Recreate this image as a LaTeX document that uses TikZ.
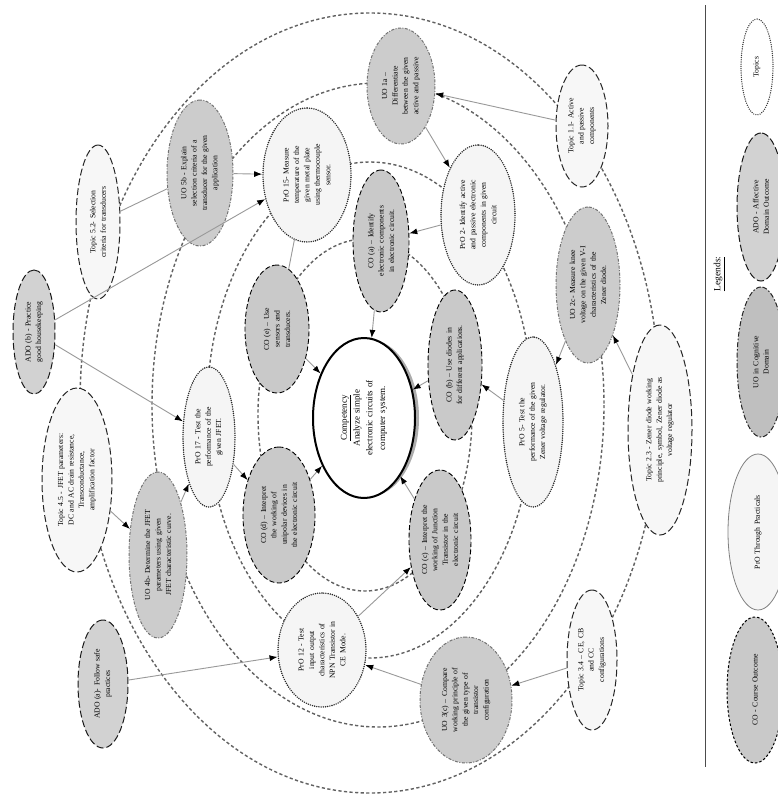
\documentclass[tikz,border=0pt]{standalone}
\usepackage{fontspec}
\setmainfont{Liberation Serif}
\usetikzlibrary{shapes.geometric,arrows.meta}
\tikzset{
  sz/.style 2 args={minimum width=#2*2pt, minimum height=#1*2pt},
  base/.style={ellipse, inner sep=0pt, align=center, rotate=90, font=\fontsize{7.7}{10.4}\selectfont},
  conode/.style={base, draw=black, fill=gray!42, line width=0.9pt, dash pattern=on 5pt off 2.5pt},
  pronode/.style={base, draw=black!85, fill=gray!8, line width=1.6pt, dash pattern=on 0pt off 2.2pt, line cap=round},
  uonode/.style={base, draw=black!55, fill=gray!40, line width=1pt, dash pattern=on 3pt off 1.5pt on 1pt off 1.5pt},
  topicnode/.style={base, draw=black!85, fill=gray!6, line width=1pt, dash pattern=on 7pt off 3pt},
  adonode/.style={base, draw=black!90, fill=gray!35, line width=1pt, dash pattern=on 7pt off 3pt},
  compnode/.style={ellipse, inner sep=0pt, align=center, rotate=90, draw=black, fill=white, line width=2pt, font=\fontsize{9}{12.8}\selectfont},
  ring/.style={draw=black!62, line width=1.4pt, dash pattern=on 3.2pt off 2.4pt},
  link/.style={draw=black!40, line width=0.9pt, -{Latex[black,length=8pt,width=6pt]}},
  plainlink/.style={draw=black!40, line width=0.9pt},
  legline/.style={draw=black!70, line width=1pt},
}
\begin{document}
\begin{tikzpicture}[x=1pt,y=-1pt]
\useasboundingbox (0,0) rectangle (778,798);
\fill[white] (0,0) rectangle (778,798);
% rings
\draw[ring] (370,403) ellipse [x radius=290, y radius=390];
\draw[ring] (378,405) ellipse [x radius=226, y radius=322];
\draw[ring] (370,410) ellipse [x radius=163, y radius=248];
\draw[ring] (365,415) ellipse [x radius=107, y radius=176];
% competency shadow
\fill[gray!65] (368,418) ellipse [x radius=51, y radius=79];
\node[compnode, sz={51}{80}, text width=104pt] (comp) at (364,418)
  {\underline{Competency}\\Analyze simple\\electronic circuits of\\computer system.};
% CO nodes
\node[conode, sz={28}{71}, text width=95pt] (coa) at (381,241) {CO (a) – Identify\\electronic components\\in electronic circuit.};
\node[conode, sz={27}{75}, text width=104pt] (cob) at (455,365) {CO (b) – Use diodes in\\for different applications.};
\node[conode, sz={31}{70}, text width=95pt] (coc) at (440,540) {CO (c) – Interpret the\\working of Junction\\Transistor in the\\electronic circuit};
\node[conode, sz={36}{68}, text width=94pt] (cod) at (279,515) {CO (d) – Interpret\\the working of\\unipolar devices in\\the electronic circuit};
\node[conode, sz={32}{64}, text width=85pt] (coe) at (277,329) {CO (e) – Use\\sensors and\\transducers.};
% PrO nodes
\node[pronode, sz={37}{70}, text width=97pt] (pro2) at (478,215) {PrO 2- Identify active\\and passive electronic\\components in given\\circuit};
\node[pronode, sz={30}{85}, text width=115pt] (pro5) at (533,422) {PrO 5- Test the\\performance of the given\\Zener voltage regulator.};
\node[pronode, sz={44}{57}, text width=80pt] (pro12) at (322,650) {PrO 12 - Test\\input output\\characteristics of\\NPN Transistor in\\CE Mode.};
\node[pronode, sz={44}{67}, text width=94pt] (pro15) at (307,175) {PrO 15- Measure\\temperature of the\\given metal plate\\using thermocouple\\sensor.};
\node[pronode, sz={26}{70}, text width=95pt] (pro17) at (209,437) {PrO 17 - Test the\\performance of the\\given JFET.};
% UO nodes
\node[uonode, sz={34}{58}, text width=81pt] (uo1a) at (401,86) {UO 1a –\\Differentiate\\between the given\\active and passive};
\node[uonode, sz={32}{78}, text width=108pt] (uo2c) at (588,285) {UO 2c- Measure knee\\voltage on the given V-I\\characteristics of the\\Zener diode.};
\node[uonode, sz={46}{63}, text width=88pt] (uo3c) at (466,700) {UO 3(c) – Compare\\working principle of\\the given type of\\transistor\\configuration};
\node[uonode, sz={29}{83}, text width=116pt] (uo4b) at (158,555) {UO 4b- Determine the JFET\\parameters using given\\JFET characteristic curve.};
\node[uonode, sz={33}{73}, text width=102pt] (uo5b) at (200,173) {UO 5b - Explain\\selection criteria of a\\transducer for the given\\application};
% Topic nodes
\node[topicnode, sz={26}{61}, text width=85pt] (t11) at (582,126) {Topic 1.1- Active\\and passive\\components};
\node[topicnode, sz={32}{105}, text width=145pt] (t23) at (660,430) {Topic 2.3 - Zener diode working\\principle, symbol, Zener diode as\\voltage regulator};
\node[topicnode, sz={25}{70}, text width=95pt] (t34) at (592,660) {Topic 3.4 – CE, CB\\and CC\\configurations};
\node[topicnode, sz={35}{92}, text width=128pt] (t45) at (77,480) {Topic 4.5 - JFET parameters:\\DC and AC drain resistance,\\Transconductance,\\amplification factor};
\node[topicnode, sz={22}{77}, text width=108pt] (t52) at (98,222) {Topic 5.2- Selection\\criteria for transducers};
% ADO nodes
\node[adonode, sz={25}{64}, text width=90pt] (adoa) at (103,684) {ADO (a)- Follow safe\\practices};
\node[adonode, sz={21}{62}, text width=87pt] (adob) at (34,332) {ADO (b) - Practice\\good housekeeping};
% connectors
\draw[link] (t11) -- (uo1a);
\draw[link] (uo1a) -- (pro2);
\draw[link] (pro2) -- (coa);
\draw[link] (coa) -- (comp);
\draw[plainlink] (t52) -- (uo5b);
\draw[link] (uo5b) -- (pro15);
\draw[plainlink] (pro15) -- (coe);
\draw[link] (coe) -- (comp);
\draw[link] (adob) -- (pro15);
\draw[link] (adob) -- (pro17);
\draw[link] (t45) -- (uo4b);
\draw[link] (uo4b) -- (pro17);
\draw[link] (pro17) -- (cod);
\draw[link] (cod) -- (comp);
\draw[link] (adoa) -- (pro12);
\draw[link] (uo3c) -- (pro12);
\draw[link] (t34) -- (uo3c);
\draw[link] (pro12) -- (coc);
\draw[link] (coc) -- (comp);
\draw[link] (t23) -- (uo2c);
\draw[link] (uo2c) -- (pro5);
\draw[link] (pro5) -- (cob);
\draw[link] (cob) -- (comp);
% legend
\coordinate (legtop) at (705,5);
\coordinate (legbot) at (705,767);
\draw[legline] (legtop) -- (legbot);
\node[rotate=90, font=\fontsize{9.5}{11}\selectfont] (legtitle) at (719,274) {\underline{Legends:}};
\node[base, draw=black!80, fill=white, line width=1.4pt, dash pattern=on 0pt off 2.2pt, line cap=round, sz={16}{48}, text width=60pt] (legt) at (757,67) {Topics};
\node[adonode, sz={24}{74}, text width=98pt] (lega) at (761,207) {ADO - Affective\\Domain Outcome};
\node[uonode, draw=black!85, fill=gray!50, dash pattern=on 5pt off 2pt on 1.5pt off 2pt, sz={24}{75}, text width=98pt] (legu) at (761,362) {UO in Cognitive\\Domain};
\node[base, draw=black!50, fill=gray!8, line width=0.8pt, sz={30}{78}, text width=108pt] (legp) at (758,532) {PrO Through Practicals};
\node[conode, dash pattern=on 2.5pt off 2pt, line width=1pt, sz={28}{73}, text width=102pt] (legc) at (755,690) {CO - Course Outcome};
\end{tikzpicture}
\end{document}
